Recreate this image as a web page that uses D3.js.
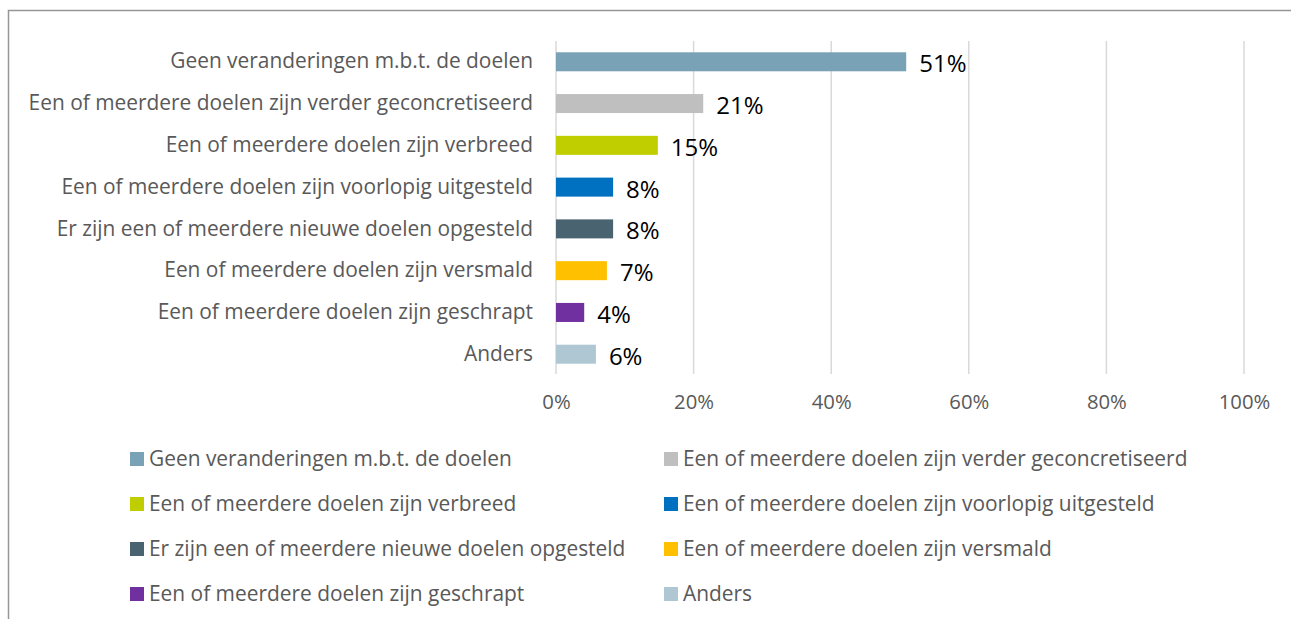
<!DOCTYPE html>
<html>
<head>
<meta charset="utf-8">
<script src="https://cdn.jsdelivr.net/npm/d3@7"></script>
<style>
  html, body { margin: 0; padding: 0; background: #fff; }
  svg { display: block; font-family: 'Open Sans', Lato, sans-serif; }
</style>
</head>
<body>
<div id="chart"></div>
<script>
// categories, top to bottom as drawn
const categories = [
  'Geen veranderingen m.b.t. de doelen',
  'Een of meerdere doelen zijn verder geconcretiseerd',
  'Een of meerdere doelen zijn verbreed',
  'Een of meerdere doelen zijn voorlopig uitgesteld',
  'Er zijn een of meerdere nieuwe doelen opgesteld',
  'Een of meerdere doelen zijn versmald',
  'Een of meerdere doelen zijn geschrapt',
  'Anders'
]
// share of respondents (bar length)
const values = [0.509, 0.214, 0.148, 0.083, 0.083, 0.074, 0.041, 0.058]
// printed labels
const valueLabels = ['51%', '21%', '15%', '8%', '8%', '7%', '4%', '6%']
const colors = ['#7AA2B6', '#BFBFBF', '#C0CE00', '#0070C0', '#4A6370', '#FFC000', '#7030A0', '#AEC7D2']
const ticks = [0, 0.2, 0.4, 0.6, 0.8, 1]

const width = 1291
const height = 619
const textGray = '#595959'
const font = "'Open Sans', sans-serif"

const svg = d3.select('#chart').append('svg')
  .attr('width', width)
  .attr('height', height)

// chart border
svg.append('rect')
  .attr('x', 8.5)
  .attr('y', 10.5)
  .attr('width', width + 20)
  .attr('height', height + 20)
  .attr('fill', 'none')
  .attr('stroke', '#969696')
  .attr('stroke-width', 1.5)

const x = d3.scaleLinear()
  .domain([0, 1])
  .range([556, 1244])

const y = d3.scaleBand()
  .domain(categories)
  .range([41, 375])
  .paddingInner(0.545)
  .paddingOuter(0.27)

// gridlines
svg.append('g')
  .selectAll('line')
  .data(ticks)
  .enter()
  .append('line')
  .attr('x1', d => x(d))
  .attr('x2', d => x(d))
  .attr('y1', 41)
  .attr('y2', 374)
  .attr('stroke', '#D9D9D9')
  .attr('stroke-width', 1.5)

// x axis tick labels
const xAxis = d3.axisBottom(x)
  .tickValues(ticks)
  .tickFormat(d3.format('.0%'))
  .tickSize(0)
  .tickPadding(0)

const axisG = svg.append('g')
  .attr('transform', 'translate(0, 395)')
  .call(xAxis)
axisG.select('.domain').remove()
axisG.selectAll('text')
  .attr('dy', '0.71em')
  .attr('fill', textGray)
  .style('font-size', '20.3px')
  .style('font-family', font)

// category labels
const yAxis = d3.axisLeft(y)
  .tickSize(0)
  .tickPadding(0)
const yG = svg.append('g')
  .attr('transform', 'translate(533, 0)')
  .call(yAxis)
yG.select('.domain').remove()
yG.selectAll('text')
  .attr('fill', textGray)
  .style('font-size', '20.9px')
  .style('font-family', font)

// bars
svg.append('g')
  .selectAll('rect')
  .data(categories)
  .enter()
  .append('rect')
  .attr('x', x(0))
  .attr('y', d => y(d))
  .attr('width', (d, i) => x(values[i]) - x(0))
  .attr('height', y.bandwidth())
  .attr('fill', (d, i) => colors[i])

// data labels
svg.append('g')
  .selectAll('text')
  .data(categories)
  .enter()
  .append('text')
  .attr('x', (d, i) => x(values[i]) + 13)
  .attr('y', d => y(d) + y.bandwidth() / 2 + 2)
  .attr('dy', '0.35em')
  .attr('fill', '#000')
  .style('font-size', '24px')
  .text((d, i) => valueLabels[i])

// legend, two columns, filled row by row
const legendCols = [130, 664]
const legendTop = 459
const legendStep = 45
const legend = svg.append('g')
  .selectAll('g')
  .data(categories)
  .enter()
  .append('g')
  .attr('transform', (d, i) => `translate(${legendCols[i % 2]}, ${legendTop + Math.floor(i / 2) * legendStep})`)

legend.append('rect')
  .attr('x', 0)
  .attr('y', -7)
  .attr('width', 14)
  .attr('height', 14)
  .attr('fill', (d, i) => colors[i])

legend.append('text')
  .attr('x', 19)
  .attr('y', 0)
  .attr('dy', '0.35em')
  .attr('fill', textGray)
  .style('font-size', '20.9px')
  .text(d => d)
</script>
</body>
</html>
